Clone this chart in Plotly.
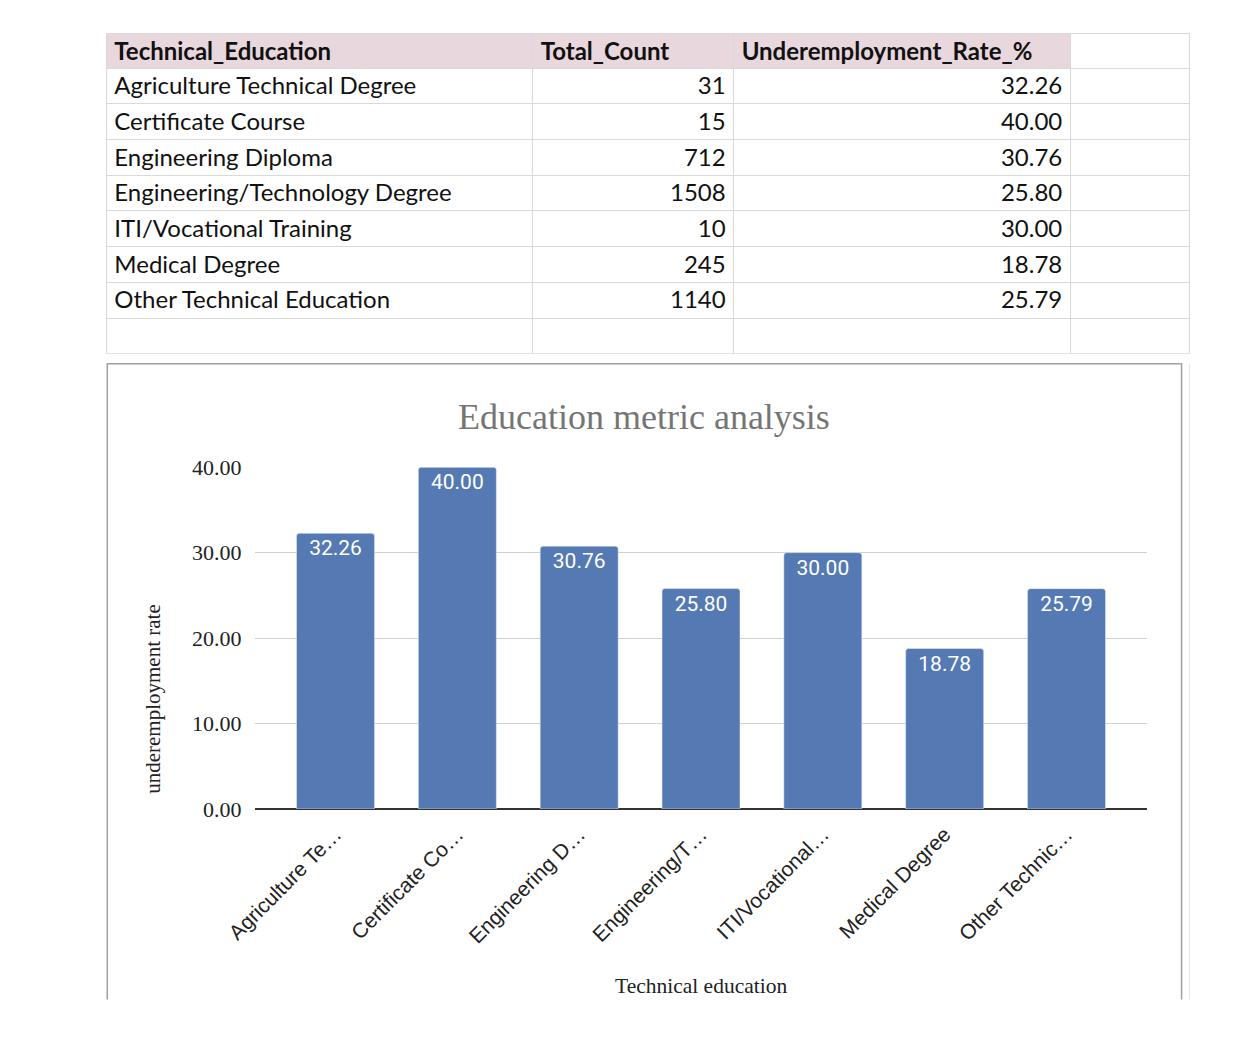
import plotly.graph_objects as go

# data from the sheet
education = [
    "Agriculture Technical Degree",
    "Certificate Course",
    "Engineering Diploma",
    "Engineering/Technology Degree",
    "ITI/Vocational Training",
    "Medical Degree",
    "Other Technical Education",
]
total_count = [31, 15, 712, 1508, 10, 245, 1140]
underemp_rate = [32.26, 40.00, 30.76, 25.80, 30.00, 18.78, 25.79]
short_labels = [
    "Agriculture Te…",
    "Certificate Co…",
    "Engineering D…",
    "Engineering/T…",
    "ITI/Vocational…",
    "Medical Degree",
    "Other Technic…",
]
headers = ["Technical_Education", "Total_Count", "Underemployment_Rate_%", ""]

W, H = 1236, 1062


def px(x):
    return x / W


def py(y):
    return 1 - y / H


# spreadsheet part (one empty row at the bottom like the sheet)
col1 = education + [""]
col2 = [str(v) for v in total_count] + [""]
col3 = ["%.2f" % v for v in underemp_rate] + [""]
col4 = [""] * (len(education) + 1)

table = go.Table(
    domain=dict(x=[px(70), px(1180)], y=[py(342), py(14)]),
    columnwidth=[437, 206, 345, 122],
    header=dict(
        values=headers,
        fill_color=["#E9D7DE", "#E9D7DE", "#E9D7DE", "white"],
        line_color="#D9D9D9",
        align="left",
        height=34.5,
        font=dict(family="Lato", size=24, color="#111111", weight="bold"),
    ),
    cells=dict(
        values=[col1, col2, col3, col4],
        fill_color="white",
        line_color="#D9D9D9",
        align=["left", "right", "right", "right"],
        height=35.7,
        font=dict(family="Lato", size=24, color="#111111"),
    ),
)

bars = go.Bar(
    x=education,
    y=underemp_rate,
    marker=dict(color="#5479B3", cornerradius=3),
    texttemplate="%{y:.2f}",
    textposition="inside",
    insidetextanchor="end",
    textangle=0,
    textfont=dict(family="Roboto", size=21, color="white"),
    showlegend=False,
)

fig = go.Figure(data=[table, bars])

fig.update_layout(
    width=W,
    height=H,
    margin=dict(l=0, r=0, t=0, b=0),
    paper_bgcolor="white",
    plot_bgcolor="white",
    bargap=0.36,
    xaxis=dict(
        domain=[px(222), px(1137)],
        range=[-0.664, 6.664],
        tickmode="array",
        tickvals=education,
        ticktext=short_labels,
        tickangle=-45,
        tickfont=dict(family="Liberation Sans", size=21, color="#222222"),
        ticklabelstandoff=8,
        showgrid=False,
        showline=False,
    ),
    yaxis=dict(
        domain=[py(808), py(458)],
        range=[0, 40],
        dtick=10,
        tickformat=".2f",
        tickfont=dict(family="Liberation Serif", size=22, color="#222222"),
        ticklabelstandoff=12,
        gridcolor="#D0D0D0",
        gridwidth=1,
        zeroline=True,
        zerolinecolor="#333333",
        zerolinewidth=2,
    ),
    annotations=[
        dict(text="Education metric analysis", x=px(621), y=py(407),
             xref="paper", yref="paper", xanchor="center", yanchor="middle",
             showarrow=False,
             font=dict(family="Liberation Serif", size=36, color="#757575")),
        dict(text="underemployment rate", x=px(118), y=py(695),
             xref="paper", yref="paper", xanchor="center", yanchor="middle",
             textangle=-90, showarrow=False,
             font=dict(family="Liberation Serif", size=21, color="#222222")),
        dict(text="Technical education", x=px(680), y=py(989),
             xref="paper", yref="paper", xanchor="center", yanchor="middle",
             showarrow=False,
             font=dict(family="Liberation Serif", size=21.5, color="#222222")),
    ],
    shapes=[
        # chart frame (bottom edge is cut off in the screenshot)
        dict(type="path", xref="paper", yref="paper",
             path="M %f,%f L %f,%f L %f,%f L %f,%f" % (
                 px(71), py(1003), px(71), py(352),
                 px(1172), py(352), px(1172), py(1003)),
             line=dict(color="#A0A0A0", width=1.5)),
        dict(type="line", xref="paper", yref="paper",
             x0=px(1180), x1=px(1180), y0=py(352), y1=py(1003),
             line=dict(color="#E4E4E4", width=1)),
    ],
)

fig.write_html("out.html")
